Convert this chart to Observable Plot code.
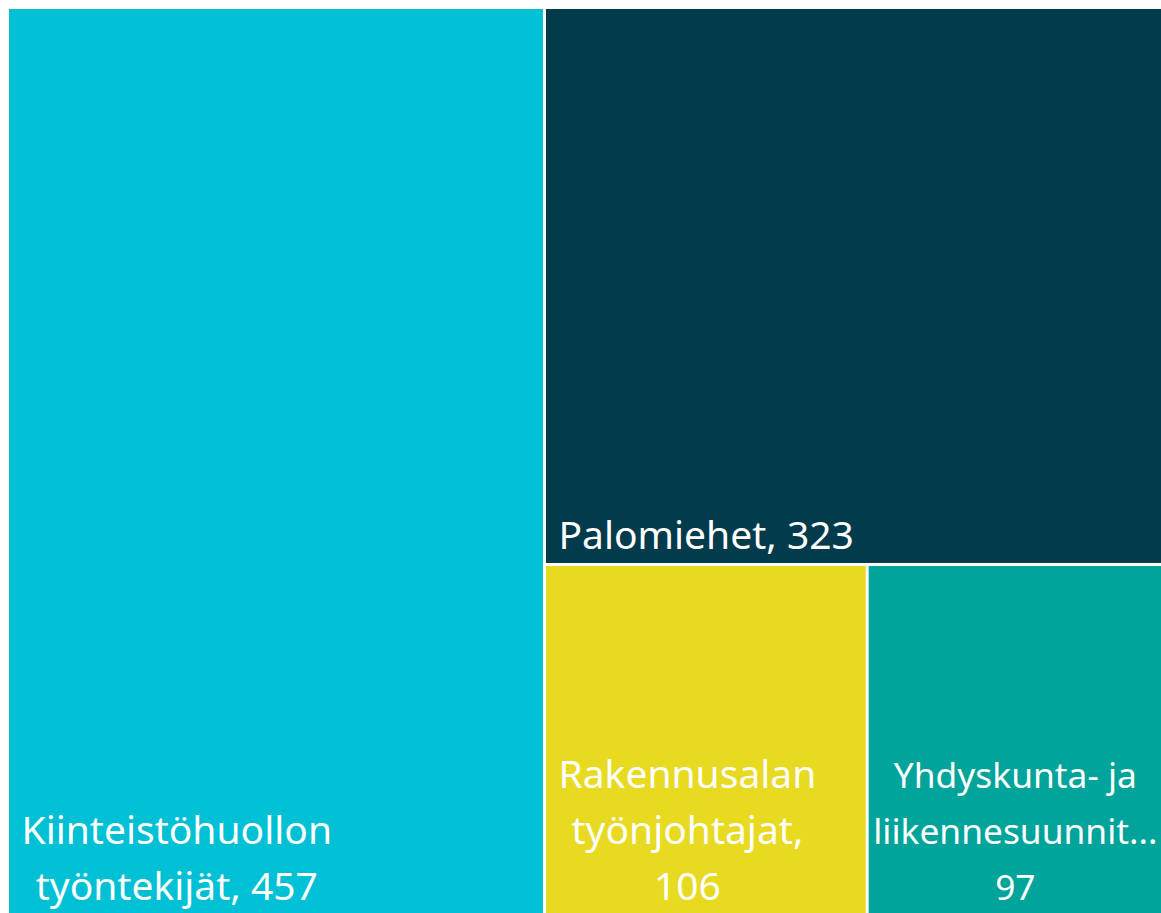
<!DOCTYPE html>
<html>
<head>
<meta charset="utf-8">
<script src="https://cdn.jsdelivr.net/npm/d3@7"></script>
<script src="https://cdn.jsdelivr.net/npm/@observablehq/plot@0.6"></script>
<style>
  html, body { margin: 0; padding: 0; background: #fff; }
</style>
</head>
<body>
<div id="chart"></div>
<script>
const categories = ["Kiinteistöhuollon työntekijät", "Palomiehet", "Rakennusalan työnjohtajat", "Yhdyskunta- ja liikennesuunnittelijat"];
const values = [457, 323, 106, 97];
const labelLines = [
  ["Kiinteistöhuollon", "työntekijät, 457"],
  ["Palomiehet, 323"],
  ["Rakennusalan", "työnjohtajat,", "106"],
  ["Yhdyskunta- ja", "liikennesuunnit...", "97"]
];
const colors = ["#00C0D5", "#023B4B", "#E8DA20", "#00A49A"];

const W = 1161, H = 913;
const mTop = 9, mLeft = 9, mRight = 0, mBottom = 0;
const iw = W - mLeft - mRight, ih = H - mTop - mBottom;
const fontFamily = "'Segoe UI', 'Noto Sans', sans-serif";
const baseFont = 39;
const lineH = 56;

const root = d3.hierarchy({children: categories.map((c, i) => ({name: c, value: values[i], i}))})
  .sum(d => d.value || 0);
d3.treemap().size([iw, ih]).paddingInner(3).tile(d3.treemapBinary)(root);

const ctx = document.createElement("canvas").getContext("2d");
function widthAt(lines, fs) {
  ctx.font = `${fs}px ${fontFamily}`;
  return Math.max(...lines.map(s => ctx.measureText(s).width));
}

const leaves = root.leaves().map(l => {
  const lines = labelLines[l.data.i];
  const w = l.x1 - l.x0;
  let fs = baseFont;
  let bw = widthAt(lines, fs);
  if (bw > w - 8) { fs = fs * (w - 8) / bw; bw = widthAt(lines, fs); }
  const lx = (bw + 24 > w) ? l.x0 + w / 2 : l.x0 + 12 + bw / 2;
  return {
    name: l.data.name, value: l.data.value, i: l.data.i,
    x0: l.x0, x1: l.x1, y0: l.y0, y1: l.y1,
    label: lines.join("\n"),
    fs, lh: lineH / fs,
    lx, ly: l.y1 - 14
  };
});

const chart = Plot.plot({
  width: W, height: H,
  marginTop: mTop, marginLeft: mLeft, marginRight: mRight, marginBottom: mBottom,
  x: {domain: [0, iw], range: [mLeft, W - mRight], axis: null},
  y: {domain: [0, ih], range: [mTop, H - mBottom], axis: null},
  color: {domain: categories, range: colors},
  style: {fontFamily, background: "#fff"},
  marks: [
    Plot.rect(leaves, {x1: "x0", x2: "x1", y1: "y0", y2: "y1", fill: "name"}),
    ...leaves.map(d => Plot.text([d], {
      x: "lx", y: "ly", text: "label",
      fill: "white", fontSize: d.fs, lineHeight: d.lh,
      textAnchor: "middle", lineAnchor: "bottom"
    }))
  ]
});
document.getElementById("chart").appendChild(chart);
</script>
</body>
</html>
